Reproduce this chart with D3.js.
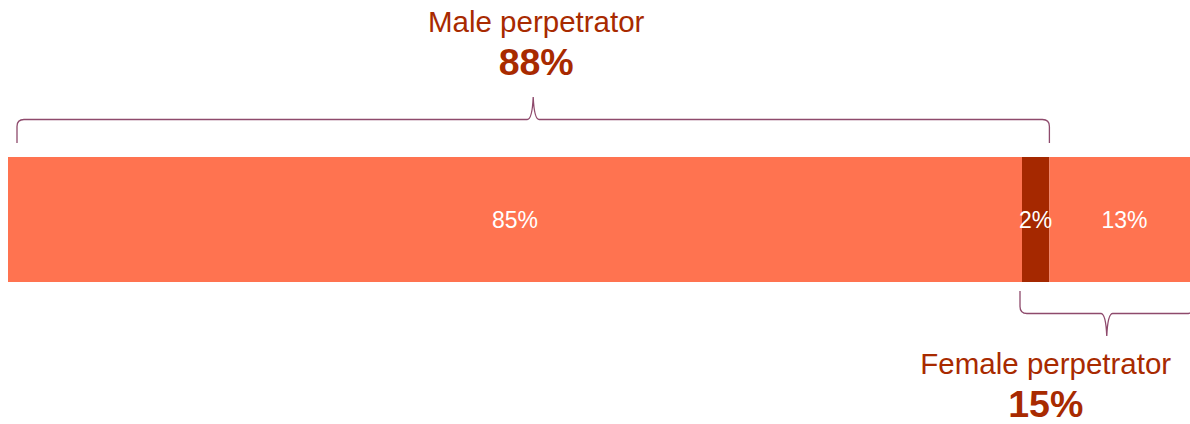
<!DOCTYPE html>
<html><head><meta charset="utf-8">
<script src="https://cdn.jsdelivr.net/npm/d3@7"></script>
<style>body{margin:0;background:#fff;overflow:hidden}svg{display:block}</style>
</head><body>
<svg id="c" width="1190" height="424"></svg>
<script>
const categories = ["Male only", "Both", "Female only"];
const values = [85.1, 2.3, 12.6];
const labels = ["85%", "2%", "13%"];
const groupTitles = ["Male perpetrator", "Female perpetrator"];
const groupValues = ["88%", "15%"];

const colors = ["#FF7350", "#A52800", "#FF7350"];
const textRed = "#A82A00";
const braceColor = "#8E4A6C";

const svg = d3.select("#c");
const x = d3.scaleLinear().domain([0, 100]).range([8, 8 + 1014 / 85.1 * 100]);
const y = d3.scaleBand().domain(["bar"]).range([157, 282]).padding(0);

let cum = 0;
const segs = values.map((v, i) => { const s = {cat: categories[i], v, x0: cum, x1: cum + v, label: labels[i], color: colors[i]}; cum += v; return s; });

svg.selectAll("rect.seg").data(segs).join("rect")
  .attr("x", d => x(d.x0)).attr("y", y("bar"))
  .attr("width", d => x(d.x1) - x(d.x0)).attr("height", y.bandwidth())
  .attr("fill", d => d.color);

svg.selectAll("text.seg").data(segs).join("text")
  .attr("x", d => (x(d.x0) + x(d.x1)) / 2)
  .attr("y", y("bar") + y.bandwidth() / 2 + 8)
  .attr("text-anchor", "middle")
  .attr("fill", "#fff")
  .attr("font-family", "Liberation Sans, Arial, sans-serif")
  .attr("font-size", 23)
  .text(d => d.label);

// braces
function brace(x0, x1, yLine, yEnd, yTip) {
  const p = d3.path();
  const dir = Math.sign(yEnd - yLine);
  const mid = (x0 + x1) / 2;
  const r = 7;
  p.moveTo(x0, yEnd);
  p.lineTo(x0, yLine + dir * r);
  p.quadraticCurveTo(x0, yLine, x0 + r, yLine);
  p.lineTo(mid - 6, yLine);
  p.quadraticCurveTo(mid - 1, yLine, mid, yTip);
  p.quadraticCurveTo(mid + 1, yLine, mid + 6, yLine);
  p.lineTo(x1 - r, yLine);
  p.quadraticCurveTo(x1, yLine, x1, yLine + dir * r);
  p.lineTo(x1, yEnd);
  return p.toString();
}
const maleEnd = x(segs[1].x1);
const femStart = x(segs[1].x0);
const braceTop = {x0: 17, x1: maleEnd};
const braceBot = {x0: femStart - 2, x1: x(100) - 6};

svg.append("path").attr("d", brace(braceTop.x0, braceTop.x1, 119.5, 143, 97))
  .attr("fill", "none").attr("stroke", braceColor).attr("stroke-width", 1.3);
svg.append("path").attr("d", brace(braceBot.x0, braceBot.x1, 313.5, 291, 336))
  .attr("fill", "none").attr("stroke", braceColor).attr("stroke-width", 1.3);

const titles = [
  {t: groupTitles[0], v: groupValues[0], cx: (braceTop.x0 + braceTop.x1) / 2 + 3, y1: 32, y2: 75},
  {t: groupTitles[1], v: groupValues[1], cx: (braceBot.x0 + braceBot.x1) / 2 - 61, y1: 374, y2: 417}
];
titles.forEach(d => {
  svg.append("text").attr("x", d.cx).attr("y", d.y1).attr("text-anchor", "middle")
    .attr("fill", textRed).attr("font-family", "Liberation Sans, Arial, sans-serif")
    .attr("font-size", 29.5).text(d.t);
  svg.append("text").attr("x", d.cx).attr("y", d.y2).attr("text-anchor", "middle")
    .attr("fill", textRed).attr("font-family", "Liberation Sans, Arial, sans-serif")
    .attr("font-weight", "bold").attr("font-size", 37.5).text(d.v);
});
</script>
</body></html>
